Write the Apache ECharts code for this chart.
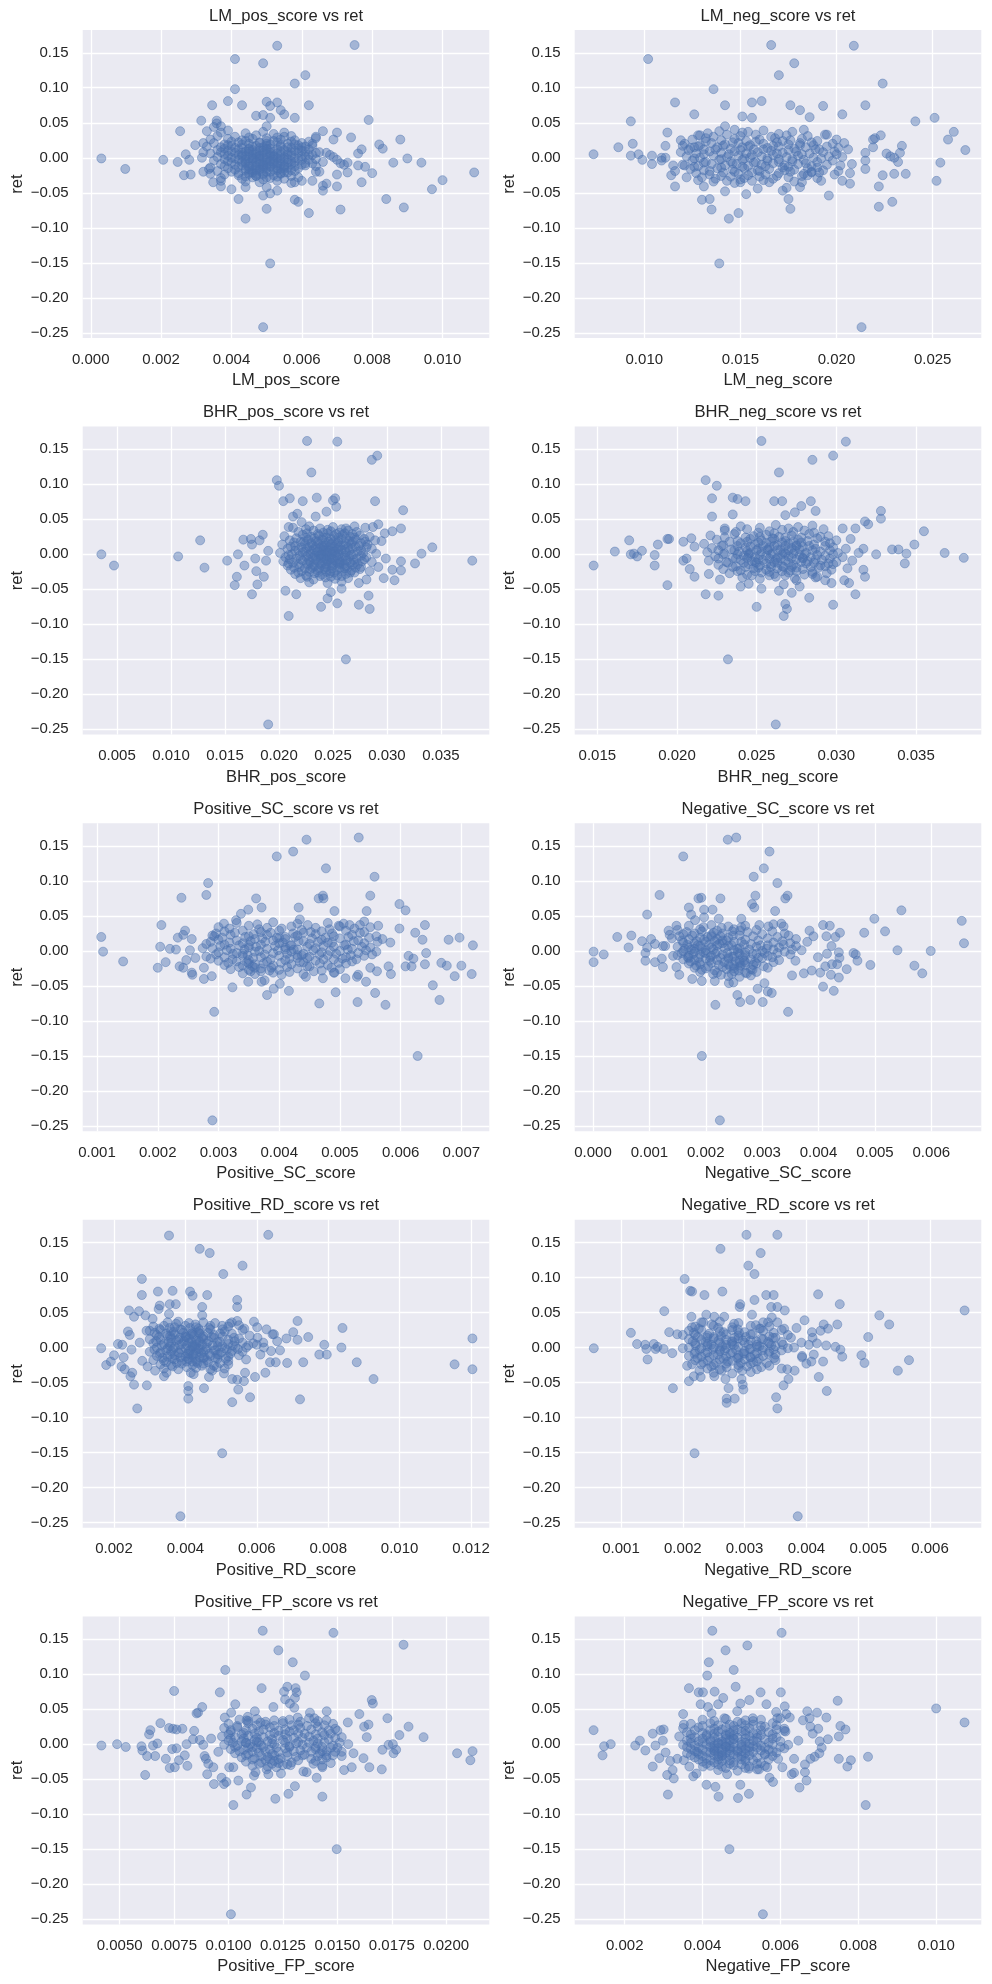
<!DOCTYPE html>
<html><head><meta charset="utf-8">
<script src="https://cdn.jsdelivr.net/npm/echarts@6/dist/echarts.min.js"></script>
<style>html,body{margin:0;padding:0;background:#fff}#c{width:992px;height:1984px}</style>
</head><body><div id="c"></div>
<script>
// ---------------- DATA ----------------
const titles = ["LM_pos_score vs ret","LM_neg_score vs ret","BHR_pos_score vs ret","BHR_neg_score vs ret","Positive_SC_score vs ret","Negative_SC_score vs ret","Positive_RD_score vs ret","Negative_RD_score vs ret","Positive_FP_score vs ret","Negative_FP_score vs ret"];
const xNames = ["LM_pos_score","LM_neg_score","BHR_pos_score","BHR_neg_score","Positive_SC_score","Negative_SC_score","Positive_RD_score","Negative_RD_score","Positive_FP_score","Negative_FP_score"];
const yName = "ret";
const yTicks = [-0.25,-0.2,-0.15,-0.1,-0.05,0,0.05,0.1,0.15];
const xTicks1 = [0,0.002,0.004,0.006,0.008,0.010];
const xTicks2 = [0.010,0.015,0.020,0.025];
const xTicks3 = [0.005,0.010,0.015,0.020,0.025,0.030,0.035];
const xTicks4 = [0.015,0.020,0.025,0.030,0.035];
const xTicks5 = [0.001,0.002,0.003,0.004,0.005,0.006,0.007];
const xTicks6 = [0,0.001,0.002,0.003,0.004,0.005,0.006];
const xTicks7 = [0.002,0.004,0.006,0.008,0.010,0.012];
const xTicks8 = [0.001,0.002,0.003,0.004,0.005,0.006];
const xTicks9 = [0.0050,0.0075,0.0100,0.0125,0.0150,0.0175,0.0200];
const xTicks10 = [0.002,0.004,0.006,0.008,0.010];

const lmPos = [[.0003,-.001],[.00098,-.016],[.00206,-.003],[.00247,-.006],[.00254,.038],[.0027,.005],[.0028,-.003],[.00265,-.025],[.00284,-.024],[.00297,.018],[.00314,.053],[.00316,0],[.0032,.008],[.0032,.021],[.0032,-.02],[.0033,.038],[.00336,-.016],[.00345,.075],[.00348,-.035],[.0034,-.023],[.0035,.044],[.00358,.053],[.00358,.049],[.0037,-.033],[.0037,-.041],[.0037,.045],[.0039,.081],[.0039,.039],[.004,-.045],[.0041,.098],[.0041,.141],[.0043,.075],[.0042,-.059],[.0044,-.087],[.0044,-.042],[.0047,.06],[.0049,.135],[.005,.08],[.005,.045],[.0049,.061],[.0049,-.054],[.005,-.073],[.0049,-.242],[.0051,-.151],[.0051,.057],[.0051,.074],[.0053,.16],[.0053,.079],[.0054,.068],[.0055,.062],[.0058,.106],[.0061,.118],[.0058,.057],[.0062,.075],[.0051,-.051],[.0053,-.047],[.005,-.042],[.0058,-.06],[.0059,-.063],[.0062,-.079],[.0058,-.035],[.006,-.033],[.0063,-.033],[.0066,-.04],[.0066,-.047],[.0067,-.037],[.007,-.041],[.007,-.024],[.0071,-.074],[.0073,-.021],[.0073,-.007],[.0074,.029],[.007,.036],[.0066,.038],[.0069,.026],[.0075,.161],[.0076,-.011],[.0076,.006],[.0077,.012],[.0077,-.035],[.0078,-.013],[.0079,.054],[.008,-.022],[.0082,.019],[.0083,.013],[.0084,-.059],[.0086,-.007],[.0088,.026],[.009,-.001],[.0089,-.071],[.0094,-.007],[.0097,-.045],[.01,-.032],[.0109,-.021],
[.0065,.008],[.0067,.007],[.0068,.004],[.0069,.001],[.007,-.003],[.0071,-.008],[.0072,-.01],[.0065,-.02],[.0064,-.012],[.0063,.02],[.0064,.028],
[.0037,.036],[.0044,.035],[.0049,.037],[.0052,.034],[.0055,.036],[.0036,.031],[.0041,.030],[.0047,.032],[.0053,.029],[.0057,.031],[.0064,.03],[.0034,.026],[.0039,.027],[.0043,.025],[.0046,.027],[.005,.024],[.0054,.026],[.0058,.025],[.0062,.023],[.0035,.021],[.0038,.019],[.0042,.022],[.0045,.02],[.0048,.021],[.0051,.019],[.0053,.022],[.0056,.02],[.0059,.018],[.0063,.017],[.0033,.016],[.0037,.015],[.004,.017],[.0043,.014],[.0046,.016],[.0049,.015],[.0051,.013],[.0054,.016],[.0057,.014],[.006,.015],[.0036,.011],[.0039,.01],[.0042,.012],[.0044,.009],[.0046,.011],[.0048,.01],[.005,.012],[.0052,.009],[.0055,.011],[.0058,.01],[.0061,.009],[.0034,.006],[.0038,.005],[.0041,.007],[.0043,.004],[.0045,.006],[.0047,.005],[.0049,.007],[.0051,.004],[.0053,.006],[.0056,.005],[.0059,.007],[.0062,.004],[.0036,.001],[.004,0],[.0043,.002],[.0045,-.001],[.0047,.001],[.0049,0],[.0051,.002],[.0053,-.001],[.0055,.001],[.0058,0],[.0061,.002],[.0064,-.002],[.0035,-.004],[.0039,-.005],[.0042,-.003],[.0044,-.006],[.0046,-.004],[.0048,-.005],[.005,-.003],[.0052,-.006],[.0054,-.004],[.0057,-.005],[.006,-.003],[.0066,-.006],[.0037,-.009],[.0041,-.01],[.0044,-.008],[.0046,-.011],[.0048,-.009],[.005,-.01],[.0052,-.008],[.0055,-.011],[.0057,-.009],[.006,-.01],[.0063,-.008],[.0034,-.014],[.0039,-.015],[.0042,-.013],[.0045,-.016],[.0047,-.014],[.0049,-.015],[.0051,-.013],[.0054,-.016],[.0056,-.014],[.0059,-.015],[.0036,-.019],[.004,-.02],[.0044,-.018],[.0046,-.021],[.0048,-.019],[.005,-.02],[.0053,-.018],[.0055,-.021],[.0058,-.019],[.0064,-.02],[.0038,-.024],[.0042,-.025],[.0045,-.023],[.0047,-.026],[.0049,-.024],[.0052,-.025],[.0054,-.023],[.0057,-.026],[.0037,-.029],[.0043,-.03],[.0046,-.028],[.0049,-.031],[.0051,-.029],[.0055,-.03],[.0059,-.028],[.0044,-.034],[.0048,-.035],[.0053,-.033],[.0057,-.036],
[.0046,-.001],[.0048,.003],[.005,-.007],[.0052,.003],[.0054,-.009],[.0047,-.017],[.005,.017],[.0053,-.015],[.0056,.008],[.0045,.013],[.0049,-.012],[.0055,-.002]];
const lmPos2 = [[.0045,.029],[.0050,.028],[.0055,.030],[.0040,.023],[.0044,.024],[.0048,.022],[.0052,.024],[.0057,.023],[.0060,.021],[.0039,.018],[.0043,.019],[.0047,.017],[.0050,.020],[.0054,.018],[.0058,.019],[.0061,.016],[.0038,.013],[.0041,.014],[.0045,.012],[.0048,.014],[.0050,.013],[.0053,.012],[.0056,.015],[.0059,.013],[.0062,.012],[.0037,.008],[.0040,.009],[.0043,.007],[.0045,.009],[.0047,.008],[.0049,.010],[.0051,.007],[.0054,.009],[.0057,.008],[.0060,.010],[.0064,.007],[.0039,.003],[.0042,.004],[.0044,.002],[.0046,.004],[.0048,.002],[.0050,.005],[.0052,.001],[.0054,.004],[.0057,.003],[.0060,.002],[.0063,.004],[.0038,-.002],[.0041,-.001],[.0044,-.003],[.0046,-.001],[.0048,-.002],[.0050,0],[.0052,-.003],[.0054,-.001],[.0056,-.002],[.0059,-.001],[.0062,-.003],[.0040,-.007],[.0043,-.006],[.0045,-.008],[.0047,-.006],[.0049,-.007],[.0051,-.005],[.0053,-.008],[.0056,-.007],[.0058,-.006],[.0061,-.008],[.0038,-.012],[.0043,-.011],[.0045,-.013],[.0047,-.012],[.0049,-.010],[.0051,-.012],[.0053,-.011],[.0055,-.013],[.0058,-.012],[.0061,-.011],[.0041,-.017],[.0044,-.016],[.0046,-.018],[.0048,-.017],[.0050,-.015],[.0052,-.017],[.0055,-.016],[.0057,-.018],[.0042,-.022],[.0045,-.021],[.0047,-.023],[.0049,-.022],[.0051,-.020],[.0054,-.022],[.0056,-.021],[.0044,-.027],[.0047,-.026],[.0050,-.028],[.0053,-.027]];

const lmNeg = [[.00736,.005],[.00865,.015],[.0093,.052],[.0093,.003],[.0094,.02],[.0097,.005],[.0099,-.003],[.0102,.141],[.0104,.003],[.0104,-.009],[.0109,0],[.0109,-.004],[.0111,0],[.0112,.036],[.0111,.017],[.0114,-.025],[.0116,.079],[.0116,-.041],[.0115,-.011],[.0116,-.019],[.0119,.025],[.012,.017],[.0121,-.011],[.0122,-.028],[.0126,.062],[.0126,.015],[.0128,-.032],[.0129,.032],[.013,-.06],[.0131,-.041],[.0134,-.059],[.0135,-.074],[.0136,.098],[.0139,-.151],[.0142,.075],[.0142,-.048],[.0142,.045],[.0144,-.087],[.0143,-.033],[.0149,-.079],[.015,-.035],[.0151,.059],[.0153,-.052],[.0156,.079],[.0156,.057],[.0161,.081],[.0159,-.044],[.0166,.161],[.017,.118],[.0178,.135],[.0176,.075],[.0181,.068],[.0186,.058],[.0172,-.047],[.0174,-.043],[.0175,-.059],[.0176,-.073],[.0181,-.042],[.0182,-.035],[.0187,-.021],[.0192,-.033],[.0196,-.054],[.0193,.074],[.0194,.033],[.0203,.062],[.0201,-.019],[.0203,-.033],[.0207,-.037],[.0207,-.022],[.0208,-.009],[.0206,.012],[.0209,.16],[.0213,-.242],[.0215,-.016],[.0215,-.004],[.0215,.007],[.0215,.075],[.0219,.015],[.0219,.026],[.022,.028],[.0222,-.041],[.0222,-.07],[.0223,.032],[.0224,.106],[.0224,-.025],[.0226,.006],[.0228,.002],[.0229,-.063],[.023,-.023],[.023,0],[.0232,-.006],[.0233,.007],[.0234,.017],[.0236,-.023],[.0241,.052],[.0251,.057],[.0252,-.033],[.0254,-.007],[.0258,.026],[.0261,.037],[.0267,.011],
[.0139,.038],[.0147,.040],[.0154,.037],[.0162,.039],[.0177,.037],[.0183,.040],[.0128,.032],[.0136,.030],[.0143,.033],[.0150,.031],[.0158,.033],[.0166,.030],[.0174,.032],[.0185,.031],[.0195,.033],[.0125,.026],[.0132,.028],[.0140,.025],[.0147,.027],[.0153,.024],[.0160,.026],[.0168,.028],[.0176,.025],[.0182,.027],[.0190,.024],[.0200,.026],[.0121,.020],[.0129,.018],[.0135,.021],[.0142,.019],[.0149,.021],[.0155,.018],[.0162,.020],[.0169,.022],[.0175,.019],[.0181,.021],[.0188,.018],[.0198,.020],[.0204,.021],[.0124,.014],[.0131,.012],[.0138,.015],[.0145,.013],[.0151,.015],[.0157,.012],[.0164,.014],[.0170,.016],[.0178,.013],[.0184,.015],[.0191,.012],[.0201,.014],[.0119,.008],[.0127,.006],[.0134,.009],[.0140,.007],[.0147,.009],[.0153,.006],[.0159,.008],[.0166,.010],[.0172,.007],[.0179,.009],[.0186,.006],[.0193,.008],[.0199,.009],[.0122,.002],[.0129,0],[.0136,.003],[.0143,.001],[.0149,.003],[.0155,0],[.0161,.002],[.0167,.004],[.0174,.001],[.0180,.003],[.0188,0],[.0196,.002],[.0203,.001],[.0125,-.004],[.0132,-.006],[.0139,-.003],[.0145,-.005],[.0151,-.003],[.0158,-.006],[.0164,-.004],[.0170,-.002],[.0177,-.005],[.0183,-.003],[.0190,-.006],[.0198,-.004],[.0120,-.010],[.0128,-.012],[.0135,-.009],[.0142,-.011],[.0148,-.009],[.0154,-.012],[.0161,-.010],[.0167,-.008],[.0173,-.011],[.0180,-.009],[.0187,-.012],[.0195,-.010],[.0202,-.011],[.0124,-.016],[.0131,-.018],[.0138,-.015],[.0146,-.017],[.0152,-.015],[.0159,-.018],[.0165,-.016],[.0172,-.014],[.0178,-.017],[.0185,-.015],[.0193,-.018],[.0127,-.022],[.0134,-.024],[.0141,-.021],[.0149,-.023],[.0156,-.021],[.0163,-.024],[.0170,-.022],[.0176,-.020],[.0183,-.023],[.0191,-.021],[.0199,-.024],[.0130,-.028],[.0137,-.030],[.0145,-.027],[.0152,-.029],[.0160,-.027],[.0167,-.030],[.0175,-.028],[.0182,-.026],[.0190,-.029],[.0136,-.034],[.0147,-.036],[.0156,-.033],[.0165,-.035],[.0178,-.034]];
const lmNeg2 = [[.0133,.035],[.0151,.036],[.0170,.034],[.0132,.023],[.0146,.022],[.0158,.023],[.0172,.024],[.0187,.022],[.0128,.016],[.0141,.017],[.0154,.016],[.0167,.017],[.0181,.018],[.0195,.016],[.0123,.011],[.0137,.012],[.0150,.011],[.0162,.012],[.0175,.011],[.0189,.012],[.0131,.005],[.0144,.005],[.0156,.004],[.0169,.006],[.0182,.005],[.0200,.005],[.0126,-.001],[.0140,-.002],[.0152,-.001],[.0164,-.001],[.0177,-.002],[.0192,-.001],[.0131,-.007],[.0146,-.008],[.0157,-.007],[.0170,-.006],[.0184,-.008],[.0126,-.013],[.0140,-.014],[.0151,-.013],[.0163,-.012],[.0175,-.013],[.0190,-.014],[.0134,-.019],[.0147,-.020],[.0160,-.019],[.0173,-.018],[.0187,-.020],[.0140,-.026],[.0154,-.025],[.0169,-.026],[.0185,-.025],[.0150,-.031],[.0162,-.032]];

const bhrPos = [[.00355,0],[.00472,-.016],[.01066,-.003],[.0127,.02],[.0131,-.019],[.0152,-.009],[.0159,-.044],[.0161,-.032],[.0162,0],[.0167,.021],[.0168,-.016],[.0174,.022],[.0175,.014],[.0175,-.057],[.0178,-.006],[.0179,-.024],[.018,-.043],[.0182,.02],[.0185,.028],[.0186,-.032],[.0188,-.009],[.019,.005],[.019,-.243],[.0198,.106],[.02,.098],[.0204,.076],[.0206,-.052],[.0209,-.088],[.021,.08],[.0209,.039],[.0213,.054],[.0216,-.057],[.0217,.058],[.0222,.076],[.0221,.046],[.0226,.162],[.023,.117],[.0235,.081],[.0234,.054],[.0239,-.075],[.0244,.061],[.0245,-.063],[.0248,-.054],[.025,.077],[.0252,.08],[.0253,.068],[.0254,.161],[.0254,-.07],[.0258,-.049],[.0262,-.15],[.0274,-.041],[.0274,-.072],[.0281,-.036],[.0283,-.059],[.0284,-.078],[.0286,.135],[.0291,.141],[.0289,.076],[.0287,.039],[.0292,.043],[.0295,.019],[.0292,-.018],[.0297,-.034],[.0298,.03],[.0299,-.006],[.0305,.033],[.0307,-.037],[.0305,-.022],[.0313,.037],[.0313,-.01],[.0313,-.023],[.0315,.063],[.0326,-.013],[.0332,.001],[.0342,.01],[.0379,-.009],
[.0213,.038],[.0228,.040],[.0238,.037],[.0250,.039],[.0262,.037],[.0270,.040],[.0280,.038],[.0218,.032],[.0232,.034],[.0241,.031],[.0248,.033],[.0256,.031],[.0264,.034],[.0272,.032],[.0205,.026],[.0222,.028],[.0230,.025],[.0237,.027],[.0244,.024],[.0251,.026],[.0259,.028],[.0266,.025],[.0275,.027],[.0284,.025],[.0210,.020],[.0220,.018],[.0227,.021],[.0234,.019],[.0240,.021],[.0246,.018],[.0252,.020],[.0258,.022],[.0265,.019],[.0271,.021],[.0280,.018],[.0289,.020],[.0203,.014],[.0215,.012],[.0224,.015],[.0231,.013],[.0237,.015],[.0242,.012],[.0248,.014],[.0254,.016],[.0260,.013],[.0267,.015],[.0274,.012],[.0282,.014],[.0208,.008],[.0218,.006],[.0226,.009],[.0232,.007],[.0238,.009],[.0243,.006],[.0249,.008],[.0255,.010],[.0261,.007],[.0268,.009],[.0276,.006],[.0286,.008],[.0201,.002],[.0212,0],[.0222,.003],[.0229,.001],[.0235,.003],[.0240,0],[.0245,.002],[.0250,.004],[.0256,.001],[.0262,.003],[.0269,0],[.0278,.002],[.0290,.001],[.0206,-.004],[.0216,-.006],[.0225,-.003],[.0231,-.005],[.0237,-.003],[.0242,-.006],[.0247,-.004],[.0253,-.002],[.0259,-.005],[.0265,-.003],[.0272,-.006],[.0281,-.004],[.0204,-.010],[.0213,-.012],[.0222,-.009],[.0229,-.011],[.0235,-.009],[.0240,-.012],[.0245,-.010],[.0251,-.008],[.0257,-.011],[.0263,-.009],[.0270,-.012],[.0277,-.010],[.0286,-.011],[.0208,-.016],[.0219,-.018],[.0227,-.015],[.0233,-.017],[.0239,-.015],[.0244,-.018],[.0250,-.016],[.0256,-.014],[.0262,-.017],[.0268,-.015],[.0276,-.018],[.0211,-.022],[.0221,-.024],[.0229,-.021],[.0236,-.023],[.0242,-.021],[.0248,-.024],[.0254,-.022],[.0261,-.020],[.0267,-.023],[.0275,-.021],[.0284,-.024],[.0215,-.028],[.0225,-.030],[.0233,-.027],[.0240,-.029],[.0247,-.027],[.0254,-.030],[.0262,-.028],[.0270,-.026],[.0220,-.034],[.0232,-.036],[.0243,-.033],[.0252,-.035],[.0264,-.034],[.0228,-.040],[.0245,-.041],[.0258,-.039],
[.0238,-.001],[.0243,.004],[.0247,-.007],[.0252,.001],[.0256,-.012],[.0241,.010],[.0249,-.013],[.0255,.007]];
const bhrPos2 = [[.0225,.036],[.0245,.035],[.0258,.036],[.0226,.030],[.0236,.029],[.0245,.030],[.0253,.029],[.0261,.030],[.0268,.029],[.0216,.023],[.0225,.024],[.0233,.023],[.0241,.024],[.0248,.022],[.0255,.024],[.0262,.023],[.0270,.024],[.0279,.022],[.0214,.017],[.0223,.018],[.0230,.016],[.0236,.018],[.0243,.017],[.0249,.016],[.0255,.018],[.0262,.016],[.0268,.018],[.0276,.016],[.0211,.011],[.0221,.010],[.0228,.011],[.0234,.010],[.0240,.012],[.0246,.010],[.0251,.011],[.0257,.012],[.0264,.010],[.0271,.011],[.0281,.010],[.0215,.005],[.0224,.004],[.0230,.005],[.0236,.004],[.0241,.006],[.0247,.005],[.0252,.004],[.0258,.006],[.0265,.005],[.0273,.004],[.0209,-.001],[.0219,-.002],[.0227,-.001],[.0233,-.002],[.0239,-.001],[.0244,-.002],[.0249,0],[.0255,-.001],[.0261,-.002],[.0267,-.001],[.0276,-.002],[.0210,-.007],[.0220,-.007],[.0228,-.008],[.0234,-.007],[.0239,-.006],[.0244,-.007],[.0249,-.006],[.0256,-.008],[.0262,-.007],[.0269,-.008],[.0279,-.007],[.0209,-.013],[.0218,-.014],[.0226,-.013],[.0232,-.014],[.0238,-.013],[.0243,-.014],[.0248,-.012],[.0254,-.013],[.0260,-.014],[.0266,-.012],[.0273,-.014],[.0214,-.019],[.0224,-.020],[.0231,-.019],[.0237,-.020],[.0243,-.019],[.0249,-.020],[.0256,-.019],[.0263,-.020],[.0271,-.019],[.0218,-.026],[.0228,-.025],[.0236,-.026],[.0244,-.025],[.0251,-.026],[.0258,-.025],[.0266,-.026],[.0226,-.032],[.0238,-.031],[.0248,-.032],[.0258,-.031]];

const bhrNeg = [[.01477,-.016],[.0161,.004],[.017,.02],[.0171,0],[.0173,.001],[.0175,-.003],[.0178,.005],[.0186,-.001],[.0186,-.016],[.0188,.014],[.0194,.022],[.0195,.022],[.0194,-.044],[.0204,.018],[.0204,-.009],[.0206,-.006],[.0208,-.021],[.0209,.023],[.0211,-.032],[.0211,.011],[.0218,.106],[.0218,-.057],[.022,-.028],[.0222,.08],[.0222,.054],[.0225,.098],[.0226,-.059],[.0227,-.036],[.023,.037],[.0232,-.15],[.0235,.081],[.0238,.079],[.0235,.057],[.0243,.076],[.024,-.046],[.0245,-.042],[.025,-.075],[.0253,.162],[.0253,-.049],[.0261,.076],[.0262,-.243],[.0264,-.052],[.0264,.117],[.0266,.076],[.0267,-.043],[.0268,-.071],[.0269,-.078],[.0267,-.088],[.0272,-.055],[.0268,.056],[.0274,.06],[.0278,.069],[.0275,-.037],[.0277,-.046],[.0283,-.062],[.0284,.076],[.0285,.135],[.0287,.062],[.0285,-.028],[.0288,-.032],[.0293,-.037],[.0297,-.041],[.0298,.141],[.0298,-.072],[.0306,.161],[.0304,.037],[.0305,-.037],[.0308,-.041],[.0309,.022],[.0312,.037],[.0312,-.057],[.0314,.002],[.0317,.008],[.0317,-.022],[.0318,-.032],[.0318,.047],[.032,.043],[.0325,0],[.0328,.062],[.0328,.051],[.0335,.007],[.0339,.007],[.0343,-.013],[.0344,.001],[.0349,.014],[.0355,.033],[.0368,.002],[.038,-.005],
[.0240,.040],[.0262,.042],[.0276,.039],[.0285,.041],[.0230,.034],[.0244,.036],[.0258,.033],[.0266,.035],[.0280,.034],[.0292,.036],[.0221,.027],[.0236,.029],[.0248,.026],[.0256,.028],[.0264,.025],[.0272,.027],[.0283,.029],[.0295,.026],[.0225,.021],[.0238,.019],[.0246,.022],[.0253,.020],[.0261,.022],[.0268,.019],[.0276,.021],[.0288,.023],[.0300,.020],[.0217,.015],[.0229,.013],[.0240,.016],[.0249,.014],[.0256,.016],[.0263,.013],[.0270,.015],[.0278,.017],[.0286,.014],[.0296,.016],[.0222,.009],[.0234,.007],[.0243,.010],[.0251,.008],[.0258,.010],[.0265,.007],[.0272,.009],[.0279,.011],[.0287,.008],[.0298,.010],[.0306,.008],[.0219,.003],[.0230,.001],[.0239,.004],[.0246,.002],[.0253,.004],[.0260,.001],[.0267,.003],[.0274,.005],[.0281,.002],[.0290,.004],[.0301,.002],[.0224,-.003],[.0235,-.005],[.0242,-.002],[.0249,-.004],[.0256,-.002],[.0263,-.005],[.0270,-.003],[.0277,-.001],[.0284,-.004],[.0293,-.002],[.0304,-.004],[.0220,-.009],[.0231,-.011],[.0240,-.008],[.0247,-.010],[.0254,-.008],[.0261,-.011],[.0268,-.009],[.0275,-.007],[.0282,-.010],[.0291,-.008],[.0300,-.011],[.0310,-.009],[.0226,-.015],[.0237,-.017],[.0245,-.014],[.0252,-.016],[.0259,-.014],[.0266,-.017],[.0273,-.015],[.0281,-.013],[.0290,-.016],[.0298,-.014],[.0229,-.021],[.0240,-.023],[.0248,-.020],[.0256,-.022],[.0263,-.020],[.0271,-.023],[.0279,-.021],[.0289,-.019],[.0297,-.022],[.0307,-.020],[.0233,-.027],[.0244,-.029],[.0253,-.026],[.0261,-.028],[.0270,-.026],[.0280,-.029],[.0294,-.027],[.0241,-.033],[.0252,-.035],[.0262,-.032],[.0274,-.034],[.0287,-.033],
[.0245,-.001],[.0250,-.012],[.0257,.006],[.0262,-.007],[.0268,.001],[.0272,-.018],[.0275,.012],[.0279,-.005]];
const bhrNeg2 = [[.0252,.038],[.0270,.037],[.0237,.032],[.0251,.031],[.0261,.030],[.0273,.032],[.0286,.031],[.0230,.024],[.0243,.024],[.0252,.025],[.0260,.023],[.0268,.024],[.0278,.024],[.0290,.025],[.0233,.018],[.0244,.018],[.0251,.017],[.0259,.018],[.0266,.017],[.0273,.018],[.0282,.019],[.0293,.018],[.0228,.012],[.0238,.012],[.0246,.011],[.0254,.012],[.0261,.012],[.0268,.012],[.0275,.013],[.0283,.012],[.0293,.012],[.0226,.006],[.0236,.006],[.0244,.005],[.0250,.006],[.0257,.007],[.0263,.006],[.0270,.006],[.0277,.007],[.0285,.006],[.0296,.006],[.0229,0],[.0238,0],[.0245,.001],[.0252,-.001],[.0259,0],[.0266,0],[.0273,.001],[.0280,0],[.0288,-.001],[.0298,0],[.0226,-.006],[.0237,-.006],[.0244,-.005],[.0251,-.007],[.0258,-.006],[.0265,-.006],[.0272,-.005],[.0279,-.006],[.0287,-.007],[.0296,-.006],[.0232,-.012],[.0242,-.012],[.0249,-.011],[.0256,-.013],[.0263,-.012],[.0270,-.012],[.0278,-.011],[.0286,-.012],[.0295,-.013],[.0235,-.018],[.0243,-.018],[.0251,-.019],[.0259,-.018],[.0267,-.018],[.0275,-.019],[.0284,-.018],[.0293,-.017],[.0238,-.024],[.0249,-.024],[.0258,-.025],[.0266,-.024],[.0275,-.024],[.0285,-.025],[.0247,-.030],[.0258,-.030],[.0268,-.030]];

const posSC = [[.00107,.02],[.0011,-.001],[.00143,-.015],[.002,-.024],[.00204,.006],[.00206,.037],[.00213,-.016],[.0022,.003],[.0023,.002],[.00233,.019],[.00239,.076],[.00236,-.022],[.00242,-.024],[.00242,.023],[.00245,.029],[.00247,-.013],[.00253,.001],[.00256,-.031],[.00257,-.034],[.00256,.017],[.00262,-.01],[.00274,.004],[.00276,-.024],[.00276,-.04],[.0028,.08],[.00283,.097],[.00289,-.036],[.0029,-.242],[.00293,-.087],[.00293,.021],[.00309,.039],[.00323,-.052],[.00329,.044],[.00337,.053],[.00349,.059],[.00349,-.044],[.00362,.075],[.00371,.062],[.00371,-.044],[.0038,-.063],[.00376,-.042],[.00391,-.054],[.00396,.135],[.00404,-.034],[.00401,-.047],[.00416,-.057],[.00423,.142],[.00432,.062],[.00434,.045],[.00445,.159],[.00444,-.037],[.00466,-.075],[.00465,.075],[.00472,.079],[.00477,.118],[.00473,.075],[.00472,-.039],[.00491,.057],[.00493,-.059],[.00491,-.031],[.00498,.036],[.00509,-.039],[.00516,.037],[.00529,-.073],[.00531,.162],[.00528,-.037],[.00533,.037],[.00543,-.044],[.00544,.057],[.0055,.079],[.00557,.106],[.00558,-.06],[.00561,-.029],[.00563,.036],[.00575,-.077],[.0058,-.022],[.00583,.012],[.00584,-.033],[.00598,.067],[.00598,.032],[.00608,.058],[.00608,-.022],[.00613,-.007],[.00618,-.022],[.00621,-.011],[.00624,.026],[.00628,-.15],[.00636,.016],[.0064,.037],[.0064,-.019],[.00642,-.003],[.00653,-.049],[.00664,-.07],[.00667,-.017],[.00676,-.021],[.00679,.016],[.00689,-.036],[.00697,.019],[.007,-.021],[.00717,-.033],[.00719,.008],
[.0033,.040],[.0039,.041],[.0043,.039],[.0048,.040],[.0054,.042],[.0030,.034],[.0035,.036],[.0038,.033],[.0042,.035],[.0046,.033],[.0050,.035],[.0055,.034],[.0031,.028],[.0034,.029],[.0037,.027],[.0040,.029],[.0044,.026],[.0047,.028],[.0051,.029],[.0054,.027],[.0029,.022],[.0032,.023],[.0035,.021],[.0038,.023],[.0041,.020],[.0043,.022],[.0046,.024],[.0049,.021],[.0052,.023],[.0056,.021],[.0030,.016],[.0033,.015],[.0036,.017],[.0039,.015],[.0041,.017],[.0044,.014],[.0047,.016],[.0050,.018],[.0053,.015],[.0057,.017],[.0028,.010],[.0031,.009],[.0034,.011],[.0037,.009],[.0040,.011],[.0042,.008],[.0045,.010],[.0048,.012],[.0051,.009],[.0054,.011],[.0029,.004],[.0032,.003],[.0035,.005],[.0038,.003],[.0041,.005],[.0043,.002],[.0046,.004],[.0049,.006],[.0052,.003],[.0055,.005],[.0030,-.002],[.0033,-.003],[.0036,-.001],[.0039,-.003],[.0042,-.001],[.0044,-.004],[.0047,-.002],[.0050,0],[.0053,-.003],[.0056,-.001],[.0028,-.008],[.0031,-.009],[.0034,-.007],[.0037,-.009],[.0040,-.007],[.0043,-.010],[.0045,-.008],[.0048,-.006],[.0051,-.009],[.0054,-.007],[.0030,-.014],[.0033,-.015],[.0035,-.013],[.0038,-.015],[.0041,-.013],[.0044,-.016],[.0046,-.014],[.0049,-.012],[.0052,-.015],[.0031,-.020],[.0034,-.021],[.0036,-.019],[.0039,-.021],[.0042,-.019],[.0045,-.022],[.0048,-.020],[.0051,-.018],[.0032,-.026],[.0035,-.027],[.0037,-.025],[.0040,-.027],[.0043,-.025],[.0047,-.028],[.0050,-.026],[.0055,-.024],[.0034,-.032],[.0036,-.033],[.0039,-.031],[.0044,-.033],[.0049,-.031],[.0053,-.034],
[.0035,-.018],[.0036,-.024],[.0037,-.029],[.0034,-.004],[.0035,.008],[.0041,.002],[.0043,-.006],[.0040,.019]];
const posSC2 = [[.00364,.038],[.00447,.037],[.00506,.039],[.00318,.032],[.00367,.031],[.00404,.032],[.00437,.030],[.00483,.031],[.00524,.032],[.00296,.025],[.00327,.026],[.00358,.024],[.00386,.026],[.00423,.025],[.00452,.027],[.00487,.025],[.00533,.026],[.00306,.019],[.00344,.020],[.00372,.018],[.00396,.019],[.00426,.020],[.00454,.018],[.00476,.019],[.00514,.020],[.00548,.019],[.00287,.013],[.00318,.012],[.00353,.014],[.00377,.013],[.00406,.012],[.00432,.014],[.00464,.013],[.00487,.012],[.00523,.014],[.00562,.013],[.00303,.007],[.00334,.008],[.00362,.006],[.00393,.007],[.00418,.008],[.00446,.006],[.00473,.007],[.00507,.008],[.00536,.006],[.00314,.001],[.00343,.002],[.00367,0],[.00398,.001],[.00424,.002],[.00456,.001],[.00484,0],[.00513,.002],[.00543,.001],[.00296,-.005],[.00324,-.004],[.00348,-.006],[.00376,-.005],[.00413,-.004],[.00437,-.006],[.00466,-.005],[.00494,-.004],[.00518,-.006],[.00553,-.005],[.00287,-.011],[.00323,-.012],[.00357,-.010],[.00386,-.012],[.00417,-.011],[.00446,-.010],[.00473,-.012],[.00504,-.011],[.00527,-.012],[.00316,-.017],[.00347,-.016],[.00374,-.018],[.00403,-.017],[.00434,-.016],[.00467,-.018],[.00498,-.017],[.00334,-.023],[.00356,-.022],[.00387,-.024],[.00413,-.023],[.00446,-.022],[.00486,-.024],[.00353,-.029],[.00384,-.028],[.00417,-.030],[.00457,-.029]];

const negSC = [[.00001,-.001],[.00001,-.016],[.00019,-.005],[.00043,.02],[.00063,.005],[.00068,.022],[.00087,.014],[.00093,-.003],[.00093,-.014],[.00096,.052],[.00096,.005],[.00103,.017],[.0011,-.016],[.0011,.01],[.00118,.08],[.00122,-.011],[.00124,-.023],[.00124,.007],[.00128,.007],[.00134,.029],[.00136,.023],[.00142,-.007],[.00148,.036],[.00148,-.023],[.00153,-.034],[.0016,.135],[.0017,.062],[.00174,.052],[.00176,-.04],[.00181,.044],[.00187,.075],[.00192,.076],[.00193,-.043],[.00193,-.15],[.00197,.048],[.00197,.059],[.00212,.059],[.00217,-.077],[.00216,-.043],[.00223,.046],[.00225,-.242],[.00226,.075],[.00227,-.034],[.00239,.159],[.00241,-.046],[.00249,-.045],[.00254,.162],[.00256,-.063],[.00261,-.073],[.00263,.046],[.00261,.029],[.00279,-.07],[.00282,.067],[.00285,.106],[.00286,.062],[.00288,.079],[.00292,-.054],[.00295,.037],[.00301,-.073],[.00303,.118],[.00304,-.046],[.0031,-.058],[.00313,.142],[.00311,.035],[.00317,-.06],[.00323,.057],[.00327,.097],[.00334,.039],[.00338,.035],[.00341,.075],[.00345,.079],[.00346,-.087],[.00347,.022],[.00353,-.035],[.00359,-.014],[.00374,-.032],[.00384,.029],[.00388,-.028],[.00391,.021],[.00399,-.009],[.00403,-.031],[.00408,-.051],[.00408,.037],[.00412,-.022],[.00414,.021],[.00415,-.004],[.0042,.036],[.00422,-.034],[.00423,.007],[.00424,-.019],[.00427,-.057],[.0043,.02],[.00433,-.019],[.00436,-.002],[.00436,-.038],[.00437,-.01],[.00438,.026],[.0045,-.026],[.00462,-.003],[.00466,-.005],[.00469,-.014],[.00481,.026],[.00492,-.02],[.00499,.046],[.00518,.028],[.0054,.001],[.00547,.058],[.0057,-.021],[.00584,-.032],[.00599,0],[.00654,.043],[.00658,.011],
[.0017,.036],[.0021,.037],[.0024,.035],[.0027,.036],[.0032,.038],[.0015,.030],[.0019,.031],[.0022,.029],[.0025,.031],[.0029,.030],[.0016,.024],[.0018,.025],[.0021,.023],[.0023,.025],[.0026,.022],[.0030,.024],[.0034,.025],[.0014,.018],[.0017,.017],[.0019,.019],[.0022,.017],[.0024,.019],[.0027,.016],[.0031,.018],[.0036,.017],[.0016,.012],[.0018,.011],[.0020,.013],[.0023,.011],[.0025,.013],[.0028,.010],[.0032,.012],[.0035,.011],[.0038,.013],[.0015,.006],[.0017,.005],[.0019,.007],[.0021,.005],[.0024,.007],[.0026,.004],[.0029,.006],[.0031,.008],[.0033,.005],[.0036,.007],[.0016,0],[.0018,-.001],[.0020,.001],[.0022,-.001],[.0025,.001],[.0027,-.002],[.0030,0],[.0032,.002],[.0034,-.001],[.0037,.001],[.0015,-.006],[.0017,-.007],[.0019,-.005],[.0021,-.007],[.0023,-.005],[.0025,-.008],[.0027,-.006],[.0029,-.004],[.0031,-.007],[.0035,-.005],[.0016,-.012],[.0018,-.013],[.0020,-.011],[.0022,-.013],[.0024,-.011],[.0026,-.014],[.0028,-.012],[.0030,-.010],[.0033,-.013],[.0017,-.018],[.0019,-.019],[.0021,-.017],[.0024,-.019],[.0026,-.017],[.0027,-.020],[.0029,-.018],[.0032,-.016],[.0018,-.024],[.0020,-.025],[.0023,-.023],[.0025,-.025],[.0026,-.023],[.0028,-.026],[.0031,-.024],[.0019,-.030],[.0022,-.031],[.0025,-.029],[.0027,-.031],[.0029,-.030],[.0024,-.036],[.0026,-.037],[.0028,-.035],
[.0018,.003],[.0020,-.003],[.0022,.008],[.0024,-.009],[.0026,-.004],[.0017,-.010],[.0023,.015],[.0027,-.016],[.0021,.021],[.0025,-.021]];
const negSC2 = [[.00196,.034],[.00228,.033],[.00263,.034],[.00166,.027],[.00193,.028],[.00214,.026],[.00247,.028],[.00274,.027],[.00318,.028],[.00153,.021],[.00176,.022],[.00203,.020],[.00226,.021],[.00248,.022],[.00284,.021],[.00327,.020],[.00158,.015],[.00184,.014],[.00197,.016],[.00216,.014],[.00237,.015],[.00263,.013],[.00293,.015],[.00336,.014],[.00167,.009],[.00186,.008],[.00206,.009],[.00224,.010],[.00246,.008],[.00268,.009],[.00297,.008],[.00338,.009],[.00163,.003],[.00174,.002],[.00193,.003],[.00213,.002],[.00234,.004],[.00256,.003],[.00277,.002],[.00308,.003],[.00353,.002],[.00157,-.003],[.00178,-.004],[.00196,-.002],[.00217,-.004],[.00238,-.003],[.00257,-.002],[.00283,-.004],[.00304,-.003],[.00327,-.003],[.00168,-.009],[.00187,-.010],[.00208,-.009],[.00226,-.010],[.00247,-.008],[.00266,-.009],[.00293,-.010],[.00318,-.009],[.00173,-.015],[.00189,-.016],[.00207,-.014],[.00233,-.016],[.00253,-.015],[.00268,-.014],[.00287,-.016],[.00183,-.021],[.00204,-.022],[.00223,-.020],[.00243,-.022],[.00262,-.021],[.00284,-.020],[.00303,-.022],[.00193,-.027],[.00216,-.028],[.00237,-.026],[.00258,-.028],[.00283,-.027],[.00213,-.033],[.00246,-.033],[.00273,-.032]];

const posRD = [[.00164,-.001],[.00178,-.025],[.00191,-.02],[.002,-.011],[.00211,.005],[.00223,.004],[.00227,-.014],[.00221,-.027],[.0023,-.031],[.00239,.023],[.00242,.053],[.00244,.018],[.00246,-.041],[.00251,-.036],[.00256,.044],[.00256,-.053],[.00249,-.003],[.00265,-.087],[.0027,.052],[.00272,.007],[.00278,.098],[.00278,.075],[.00279,-.019],[.00288,.046],[.00292,-.054],[.00294,-.027],[.00291,.024],[.00308,.041],[.00315,-.033],[.00323,.08],[.00325,.055],[.00328,.06],[.0034,-.041],[.00347,-.036],[.00354,.16],[.00356,.062],[.00354,.048],[.00364,.081],[.00373,.062],[.00386,-.241],[.00408,-.055],[.00408,-.062],[.00408,-.073],[.00413,.08],[.0042,.074],[.00415,-.036],[.00423,-.038],[.0044,.141],[.00447,.058],[.00447,.046],[.00452,-.058],[.00461,.075],[.00468,.135],[.00466,-.042],[.00475,-.033],[.00503,.031],[.00506,.105],[.00503,-.151],[.00508,-.037],[.00524,.034],[.00531,-.078],[.00531,-.045],[.00545,.068],[.00545,.058],[.00545,.038],[.00548,-.06],[.00545,-.046],[.0056,.117],[.00564,-.048],[.00567,-.036],[.00565,.027],[.00581,-.071],[.00592,.037],[.00595,-.042],[.00601,.029],[.00602,.014],[.00618,.007],[.00624,-.036],[.00627,.026],[.00632,.161],[.00637,-.021],[.00644,.019],[.00648,.019],[.00653,-.021],[.00657,.009],[.00665,-.004],[.00683,.013],[.00685,-.022],[.00702,.022],[.00714,.011],[.00714,.038],[.00721,-.074],[.0073,-.021],[.00744,.015],[.00775,-.01],[.00789,.004],[.00796,-.01],[.00837,0],[.0084,.028],[.0088,-.021],[.00927,-.045],[.01154,-.024],[.01204,.013],[.01204,-.031],
[.0060,.004],[.0062,0],[.0064,-.005],[.0061,-.010],
[.0035,.036],[.0038,.037],[.0041,.035],[.0045,.036],[.0053,.036],[.0031,.030],[.0034,.031],[.0037,.029],[.0040,.031],[.0043,.029],[.0047,.031],[.0052,.030],[.0055,.032],[.0030,.024],[.0033,.025],[.0036,.023],[.0039,.025],[.0042,.022],[.0044,.024],[.0047,.026],[.0051,.023],[.0056,.025],[.0032,.018],[.0035,.017],[.0037,.019],[.0040,.017],[.0042,.019],[.0045,.016],[.0048,.018],[.0053,.020],[.0058,.017],[.0030,.012],[.0033,.011],[.0036,.013],[.0038,.011],[.0041,.013],[.0043,.010],[.0045,.012],[.0048,.014],[.0052,.011],[.0055,.013],[.0031,.006],[.0034,.005],[.0036,.007],[.0039,.005],[.0041,.007],[.0043,.004],[.0046,.006],[.0049,.008],[.0052,.005],[.0056,.007],[.0059,.006],[.0032,0],[.0035,-.001],[.0037,.001],[.0040,-.001],[.0042,.001],[.0044,-.002],[.0046,0],[.0049,.002],[.0051,-.001],[.0054,.001],[.0057,0],[.0030,-.006],[.0033,-.007],[.0036,-.005],[.0038,-.007],[.0041,-.005],[.0043,-.008],[.0045,-.006],[.0048,-.004],[.0050,-.007],[.0053,-.005],[.0056,-.006],[.0032,-.012],[.0035,-.013],[.0037,-.011],[.0040,-.013],[.0042,-.011],[.0044,-.014],[.0047,-.012],[.0049,-.010],[.0052,-.013],[.0055,-.011],[.0031,-.018],[.0034,-.019],[.0037,-.017],[.0039,-.019],[.0041,-.017],[.0043,-.020],[.0046,-.018],[.0049,-.016],[.0052,-.019],[.0057,-.017],[.0033,-.024],[.0036,-.025],[.0039,-.023],[.0042,-.025],[.0045,-.023],[.0048,-.026],[.0052,-.024],[.0034,-.030],[.0038,-.031],[.0043,-.029],[.0047,-.031],[.0051,-.030],
[.0042,.003],[.0043,-.003],[.0044,.008],[.0041,-.009],[.0045,-.015],[.0040,.015],[.0044,.020],[.0042,-.020]];
const posRD2 = [[.00374,.034],[.00428,.033],[.00483,.035],[.00327,.027],[.00356,.028],[.00386,.026],[.00413,.028],[.00437,.027],[.00466,.028],[.00504,.026],[.00314,.021],[.00346,.020],[.00367,.022],[.00394,.021],[.00416,.020],[.00436,.022],[.00463,.021],[.00497,.020],[.00326,.015],[.00357,.016],[.00384,.014],[.00403,.015],[.00424,.016],[.00446,.014],[.00473,.015],[.00504,.016],[.00536,.014],[.00318,.009],[.00353,.008],[.00374,.010],[.00396,.009],[.00417,.008],[.00438,.010],[.00464,.009],[.00496,.008],[.00538,.009],[.00334,.003],[.00357,.002],[.00384,.004],[.00404,.003],[.00426,.002],[.00447,.004],[.00476,.003],[.00503,.002],[.00533,.003],[.00576,.003],[.00313,-.003],[.00346,-.004],[.00366,-.002],[.00387,-.003],[.00414,-.004],[.00436,-.002],[.00457,-.003],[.00484,-.004],[.00516,-.003],[.00547,-.002],[.00328,-.009],[.00357,-.010],[.00383,-.008],[.00406,-.009],[.00423,-.010],[.00444,-.008],[.00467,-.009],[.00494,-.010],[.00526,-.009],[.00336,-.015],[.00364,-.016],[.00386,-.014],[.00407,-.015],[.00428,-.016],[.00453,-.014],[.00484,-.015],[.00513,-.016],[.00346,-.021],[.00376,-.022],[.00403,-.020],[.00434,-.022],[.00463,-.021],[.00497,-.022],[.00364,-.027],[.00404,-.028],[.00446,-.026],[.00488,-.028]];

const negRD = [[.00056,-.001],[.00116,.021],[.00126,.005],[.00139,.004],[.00141,-.002],[.00143,-.017],[.00153,.005],[.00156,-.002],[.00159,.001],[.0017,.052],[.00169,-.002],[.00178,.022],[.00183,-.008],[.00184,-.058],[.00191,.019],[.002,.018],[.00203,.098],[.002,-.001],[.00207,-.026],[.0021,-.048],[.00212,.081],[.00215,.08],[.00214,.044],[.00215,.029],[.00215,-.024],[.00218,-.041],[.00219,-.151],[.00227,-.033],[.00229,-.042],[.00235,.075],[.00238,.047],[.00233,.036],[.00251,.044],[.00251,-.041],[.00261,.141],[.00264,.08],[.00267,.044],[.00269,-.045],[.00271,-.073],[.00271,-.079],[.00274,-.058],[.00284,-.073],[.00292,.058],[.00293,.062],[.00295,-.045],[.00297,-.053],[.00298,-.06],[.00303,.161],[.00306,.117],[.00312,.047],[.00316,.105],[.00316,.068],[.00326,.135],[.00324,.027],[.00335,.075],[.00338,.036],[.00343,.058],[.00344,.043],[.00347,.075],[.00351,-.071],[.00353,-.087],[.00353,.161],[.00353,.058],[.00353,.036],[.00365,.053],[.00364,.027],[.00363,-.054],[.00371,-.045],[.00369,-.031],[.00375,.014],[.0038,0],[.00381,-.033],[.00384,.028],[.00386,-.241],[.00392,.007],[.00393,-.012],[.00393,-.014],[.00397,.039],[.004,-.023],[.00404,.004],[.00408,-.02],[.00409,.022],[.0041,.014],[.00412,-.01],[.00417,.006],[.00419,.076],[.0042,-.042],[.00423,.024],[.00427,-.02],[.00428,.033],[.00432,.003],[.00433,-.062],[.00435,.027],[.00447,.001],[.0045,.033],[.00454,.062],[.00455,-.003],[.00458,-.013],[.00489,-.011],[.00494,-.022],[.005,.015],[.00518,.046],[.00534,.033],[.00548,-.033],[.00566,-.018],[.00656,.053],
[.0023,.036],[.0026,.037],[.0029,.035],[.0033,.036],[.0022,.030],[.0025,.031],[.0028,.029],[.0031,.031],[.0034,.030],[.0021,.024],[.0023,.025],[.0026,.023],[.0028,.025],[.0030,.022],[.0033,.024],[.0036,.025],[.0022,.018],[.0024,.017],[.0027,.019],[.0029,.017],[.0031,.019],[.0034,.016],[.0037,.018],[.0021,.012],[.0023,.011],[.0025,.013],[.0027,.011],[.0029,.013],[.0031,.010],[.0033,.012],[.0035,.014],[.0022,.006],[.0024,.005],[.0026,.007],[.0028,.005],[.0030,.007],[.0032,.004],[.0034,.006],[.0036,.008],[.0021,0],[.0023,-.001],[.0025,.001],[.0027,-.001],[.0029,.001],[.0031,-.002],[.0033,0],[.0035,.002],[.0037,-.001],[.0022,-.006],[.0024,-.007],[.0026,-.005],[.0028,-.007],[.0030,-.005],[.0032,-.008],[.0034,-.006],[.0036,-.004],[.0021,-.012],[.0023,-.013],[.0025,-.011],[.0027,-.013],[.0029,-.011],[.0031,-.014],[.0033,-.012],[.0035,-.010],[.0022,-.018],[.0024,-.019],[.0026,-.017],[.0028,-.019],[.0030,-.017],[.0032,-.020],[.0035,-.018],[.0023,-.024],[.0025,-.025],[.0027,-.023],[.0029,-.025],[.0031,-.023],[.0034,-.026],[.0024,-.030],[.0026,-.031],[.0029,-.029],[.0032,-.031],[.0036,-.030],[.0025,-.036],[.0028,-.037],[.0031,-.035],
[.0024,.002],[.0026,-.003],[.0028,.009],[.0030,-.009],[.0027,.004],[.0029,-.015],[.0025,.015],[.0032,.001]];
const negRD2 = [[.00247,.033],[.00283,.034],[.00318,.032],[.00226,.027],[.00257,.028],[.00289,.026],[.00326,.027],[.00218,.021],[.00243,.020],[.00266,.022],[.00291,.021],[.00313,.019],[.00347,.021],[.00224,.015],[.00239,.014],[.00262,.016],[.00284,.014],[.00302,.015],[.00327,.013],[.00346,.014],[.00216,.009],[.00237,.008],[.00258,.010],[.00279,.008],[.00297,.010],[.00319,.009],[.00338,.008],[.00221,.003],[.00246,.004],[.00264,.002],[.00283,.003],[.00306,.004],[.00324,.002],[.00343,.003],[.00362,.004],[.00227,-.003],[.00249,-.002],[.00268,-.004],[.00286,-.003],[.00308,-.002],[.00329,-.004],[.00347,-.003],[.00219,-.009],[.00236,-.008],[.00257,-.010],[.00277,-.009],[.00298,-.008],[.00316,-.010],[.00339,-.009],[.00224,-.015],[.00243,-.014],[.00266,-.016],[.00288,-.015],[.00309,-.014],[.00323,-.016],[.00348,-.015],[.00233,-.021],[.00254,-.022],[.00273,-.020],[.00294,-.022],[.00314,-.021],[.00336,-.022],[.00246,-.027],[.00271,-.028],[.00304,-.027],[.00327,-.028],[.00263,-.033],[.00296,-.033]];

const posFP = [[.00416,-.002],[.00488,0],[.00528,-.004],[.006,-.003],[.00604,-.009],[.00617,-.044],[.00626,-.017],[.00635,.014],[.00641,.02],[.00653,-.002],[.00663,-.017],[.00673,.001],[.00687,.03],[.00712,-.021],[.0073,-.034],[.00727,.023],[.00745,.022],[.0075,.076],[.00741,-.007],[.00753,-.033],[.00761,.021],[.00761,-.006],[.00772,-.023],[.00788,.022],[.00799,-.016],[.00807,0],[.00811,-.031],[.00837,.007],[.00842,.019],[.00853,.044],[.0086,.045],[.00868,.006],[.00879,.053],[.00884,-.001],[.0089,-.017],[.00896,-.021],[.00902,-.043],[.00907,-.028],[.0092,.008],[.0093,-.033],[.00933,-.057],[.00953,-.011],[.0096,.074],[.00968,-.048],[.00979,-.057],[.00985,.106],[.0099,-.054],[.00983,.038],[.01003,-.033],[.01012,.045],[.01011,-.243],[.01022,-.087],[.01022,-.033],[.01031,.057],[.01045,-.052],[.01083,-.072],[.01088,.039],[.01083,.034],[.01103,-.062],[.01121,.047],[.01117,-.045],[.01124,-.04],[.01152,.08],[.01157,.162],[.01147,.031],[.01175,-.036],[.01183,-.043],[.01206,.053],[.01215,-.078],[.01229,.134],[.01241,-.042],[.01255,.075],[.0126,.064],[.0127,.082],[.01275,-.071],[.01282,.058],[.01295,.117],[.01285,-.03],[.01308,.08],[.01313,.074],[.01305,.066],[.01305,-.06],[.01302,.052],[.01318,.038],[.01351,.098],[.01344,-.039],[.01359,-.04],[.01374,.045],[.01394,.037],[.01405,-.048],[.01431,-.075],[.01431,-.033],[.01451,.047],[.01482,.159],[.01497,-.15],[.01531,-.037],[.01548,.031],[.01566,-.033],[.01574,-.013],[.01601,.043],[.0162,-.02],[.01623,.025],[.01635,.01],[.01643,.028],[.01647,-.033],[.01658,.063],[.01663,.058],[.01707,-.008],[.01704,-.036],[.0173,.037],[.01735,-.001],[.01755,0],[.01758,-.013],[.0177,-.008],[.01785,.013],[.01804,.142],[.01827,.025],[.01896,.01],[.0205,-.013],[.02111,-.023],[.02121,-.01],
[.0105,.035],[.0113,.036],[.0121,.034],[.0128,.035],[.0137,.037],[.0145,.034],[.0100,.029],[.0109,.030],[.0117,.028],[.0125,.030],[.0132,.028],[.0140,.030],[.0148,.029],[.0098,.023],[.0104,.024],[.0111,.022],[.0119,.024],[.0126,.021],[.0133,.023],[.0141,.025],[.0149,.022],[.0101,.017],[.0107,.016],[.0114,.018],[.0121,.016],[.0128,.018],[.0135,.015],[.0143,.017],[.0150,.019],[.0097,.011],[.0103,.010],[.0109,.012],[.0116,.010],[.0123,.012],[.0130,.009],[.0137,.011],[.0144,.013],[.0152,.010],[.0100,.005],[.0106,.004],[.0112,.006],[.0118,.004],[.0125,.006],[.0132,.003],[.0139,.005],[.0146,.007],[.0098,-.001],[.0104,-.002],[.0110,0],[.0115,-.002],[.0121,0],[.0128,-.003],[.0134,-.001],[.0141,.001],[.0148,-.002],[.0155,0],[.0101,-.007],[.0107,-.008],[.0113,-.006],[.0119,-.008],[.0126,-.006],[.0133,-.009],[.0140,-.007],[.0147,-.005],[.0103,-.013],[.0109,-.014],[.0114,-.012],[.0120,-.014],[.0127,-.012],[.0135,-.015],[.0142,-.013],[.0149,-.011],[.0106,-.019],[.0112,-.020],[.0118,-.018],[.0124,-.020],[.0131,-.018],[.0138,-.021],[.0145,-.019],[.0152,-.017],[.0108,-.025],[.0115,-.026],[.0121,-.024],[.0129,-.026],[.0140,-.024],[.0147,-.027],[.0111,-.031],[.0118,-.032],[.0125,-.030],[.0143,-.031],
[.0120,-.028],[.0122,-.033],[.0119,-.022],[.0123,-.027],[.0108,.002],[.0111,-.004],[.0143,-.010],[.0145,-.016],[.0140,-.004],[.0113,.003]];
const posFP2 = [[.0109,.033],[.0117,.032],[.0125,.033],[.0133,.032],[.0141,.033],[.0104,.026],[.0113,.027],[.0121,.026],[.0129,.027],[.0136,.026],[.0144,.027],[.0101,.020],[.0108,.020],[.0116,.021],[.0123,.019],[.0130,.020],[.0138,.021],[.0146,.020],[.0100,.014],[.0106,.014],[.0112,.015],[.0119,.013],[.0126,.014],[.0132,.015],[.0140,.014],[.0147,.015],[.0101,.008],[.0107,.008],[.0113,.009],[.0120,.007],[.0127,.008],[.0134,.009],[.0141,.008],[.0149,.009],[.0102,.002],[.0108,.002],[.0114,.003],[.0120,.001],[.0126,.002],[.0131,.001],[.0137,.002],[.0144,.003],[.0151,.002],[.0103,-.004],[.0109,-.005],[.0116,-.004],[.0122,-.005],[.0128,-.004],[.0136,-.005],[.0143,-.004],[.0150,-.005],[.0105,-.010],[.0111,-.011],[.0117,-.010],[.0123,-.011],[.0130,-.010],[.0138,-.011],[.0145,-.010],[.0152,-.011],[.0108,-.016],[.0115,-.017],[.0121,-.016],[.0127,-.017],[.0134,-.016],[.0141,-.017],[.0148,-.016],[.0111,-.022],[.0117,-.023],[.0123,-.022],[.0132,-.023],[.0143,-.022],[.0114,-.028],[.0127,-.029],[.0139,-.028]];

const negFP = [[.0012,.02],[.00147,-.003],[.00143,-.016],[.00164,0],[.00227,-.002],[.00239,.005],[.00253,-.009],[.00272,.015],[.00272,-.032],[.00279,-.002],[.00289,-.02],[.00292,.02],[.003,.021],[.00298,.005],[.00305,-.012],[.00309,-.044],[.00311,-.072],[.00317,-.024],[.00323,-.037],[.00326,-.049],[.00335,-.021],[.0035,.043],[.00352,.028],[.00352,-.023],[.00365,.08],[.00366,-.032],[.00376,-.046],[.00384,-.042],[.00386,-.011],[.0039,.074],[.00395,.057],[.00401,.074],[.00401,-.032],[.0041,-.058],[.00412,.098],[.00416,.117],[.00414,.053],[.00425,.162],[.00423,.044],[.00431,.075],[.00433,-.061],[.00441,-.075],[.0044,.057],[.00453,.066],[.00459,.134],[.00456,.037],[.00463,-.043],[.00469,-.15],[.0048,.106],[.00485,.082],[.00489,.047],[.00491,-.077],[.00497,-.058],[.00497,.058],[.00515,.141],[.00519,-.071],[.0052,.063],[.00519,-.035],[.00529,.037],[.00545,-.036],[.00549,.074],[.00555,-.243],[.00564,.057],[.00566,-.033],[.00572,-.048],[.00581,-.054],[.00589,.046],[.00592,.037],[.00594,-.021],[.00601,.074],[.00603,.159],[.00605,-.033],[.00611,.054],[.00613,.018],[.00615,.043],[.00624,.038],[.00629,-.043],[.00635,-.041],[.00635,-.021],[.00646,.005],[.00649,-.062],[.00658,.034],[.00663,-.04],[.00663,-.029],[.00667,-.052],[.00669,.047],[.00675,.037],[.00677,-.021],[.00677,.025],[.00683,.015],[.00688,-.018],[.00694,.045],[.00697,.022],[.00701,.004],[.00706,-.005],[.007,-.013],[.00718,.038],[.00722,.007],[.00747,.062],[.0075,-.021],[.0075,.011],[.00754,.026],[.00767,.021],[.00772,-.032],[.00781,-.023],[.00819,-.087],[.00825,-.018],[.01,.051],[.01073,.031],
[.0040,.035],[.0046,.036],[.0051,.034],[.0055,.035],[.0060,.037],[.0037,.029],[.0042,.030],[.0047,.028],[.0050,.030],[.0053,.028],[.0058,.030],[.0035,.023],[.0039,.024],[.0043,.022],[.0046,.024],[.0049,.021],[.0052,.023],[.0056,.025],[.0061,.022],[.0036,.017],[.0040,.016],[.0044,.018],[.0047,.016],[.0050,.018],[.0053,.015],[.0057,.017],[.0061,.019],[.0034,.011],[.0038,.010],[.0041,.012],[.0044,.010],[.0046,.012],[.0049,.009],[.0052,.011],[.0055,.013],[.0059,.010],[.0036,.005],[.0039,.004],[.0042,.006],[.0045,.004],[.0047,.006],[.0050,.003],[.0053,.005],[.0056,.007],[.0060,.004],[.0035,-.001],[.0038,-.002],[.0041,0],[.0043,-.002],[.0045,0],[.0047,-.003],[.0050,-.001],[.0052,.001],[.0055,-.002],[.0058,0],[.0062,-.001],[.0037,-.007],[.0040,-.008],[.0043,-.006],[.0045,-.008],[.0047,-.006],[.0049,-.009],[.0051,-.007],[.0054,-.005],[.0057,-.008],[.0061,-.006],[.0036,-.013],[.0039,-.014],[.0042,-.012],[.0044,-.014],[.0046,-.012],[.0048,-.015],[.0051,-.013],[.0053,-.011],[.0056,-.014],[.0059,-.012],[.0038,-.019],[.0041,-.020],[.0044,-.018],[.0046,-.020],[.0049,-.018],[.0051,-.021],[.0054,-.019],[.0058,-.017],[.0040,-.025],[.0043,-.026],[.0045,-.024],[.0048,-.026],[.0051,-.024],[.0055,-.027],[.0042,-.031],[.0045,-.032],[.0048,-.030],[.0052,-.032],[.0056,-.031],[.0044,-.037],[.0049,-.038],[.0054,-.036],
[.0044,.002],[.0046,-.004],[.0048,.008],[.0050,-.010],[.0045,-.016],[.0047,.014],[.0052,-.004],[.0043,-.009]];
const negFP2 = [[.0043,.033],[.0049,.032],[.0053,.033],[.0040,.026],[.0044,.027],[.0048,.026],[.0051,.027],[.0055,.026],[.0059,.027],[.0038,.020],[.0042,.020],[.0045,.021],[.0048,.020],[.0051,.019],[.0055,.020],[.0059,.021],[.0037,.014],[.0041,.014],[.0043,.015],[.0046,.014],[.0048,.013],[.0051,.014],[.0054,.015],[.0058,.014],[.0037,.008],[.0040,.008],[.0043,.009],[.0046,.008],[.0048,.007],[.0051,.008],[.0054,.009],[.0058,.008],[.0037,.002],[.0040,.002],[.0042,.003],[.0044,.001],[.0046,.002],[.0048,.001],[.0051,.002],[.0054,.003],[.0057,.002],[.0036,-.004],[.0039,-.005],[.0042,-.004],[.0044,-.005],[.0046,-.003],[.0048,-.005],[.0050,-.004],[.0053,-.003],[.0056,-.005],[.0060,-.004],[.0038,-.010],[.0041,-.011],[.0043,-.010],[.0045,-.011],[.0047,-.009],[.0049,-.011],[.0052,-.010],[.0055,-.009],[.0058,-.010],[.0037,-.016],[.0040,-.017],[.0043,-.016],[.0045,-.017],[.0047,-.015],[.0050,-.017],[.0052,-.016],[.0056,-.015],[.0039,-.022],[.0042,-.023],[.0044,-.022],[.0047,-.023],[.0050,-.022],[.0053,-.023],[.0057,-.022],[.0041,-.028],[.0044,-.029],[.0047,-.028],[.0050,-.029],[.0054,-.028],[.0046,-.034],[.0051,-.034]];

// ---------------- LAYOUT / CONFIG ----------------
const seriesData = [lmPos.concat(lmPos2), lmNeg.concat(lmNeg2), bhrPos.concat(bhrPos2), bhrNeg.concat(bhrNeg2), posSC.concat(posSC2), negSC.concat(negSC2), posRD.concat(posRD2), negRD.concat(negRD2), posFP.concat(posFP2), negFP.concat(negFP2)];
const xTickSets = [xTicks1,xTicks2,xTicks3,xTicks4,xTicks5,xTicks6,xTicks7,xTicks8,xTicks9,xTicks10];
const xDecimals = [3,3,3,3,3,3,3,3,4,3];
const xRanges = [[-0.00023,0.01133],[0.00638,0.02753],[0.00182,0.03948],[0.01358,0.0391],[0.000764,0.00746],[-0.000325,0.006887],[0.001122,0.012513],[0.000251,0.00683],[0.0033,0.02198],[0.000715,0.01116]];
const yRange = [-0.2575, 0.1825];
const colLeft = [82.7, 574.7];
const rowTop = [30, 426.6, 823.2, 1219.8, 1616.4];
const plotW = 406.6, plotH = 308;
const FONT = "'Liberation Sans', Arial, Helvetica, sans-serif";
const TXT = '#262626';

const grids=[], xAxes=[], yAxes=[], series=[], graphics=[];
for (let i=0;i<10;i++){
  const col=i%2, row=Math.floor(i/2);
  const left=colLeft[col], top=rowTop[row];
  grids.push({left:left, top:top, width:plotW, height:plotH, show:true, backgroundColor:'#EAEAF2', borderWidth:0, containLabel:false});
  const dec=xDecimals[i];
  xAxes.push({type:'value', gridIndex:i, min:xRanges[i][0], max:xRanges[i][1],
    name:xNames[i], nameLocation:'middle', nameGap:34,
    nameTextStyle:{fontFamily:FONT, fontSize:16.5, color:TXT},
    axisLine:{show:false}, axisTick:{show:false, customValues:xTickSets[i]},
    axisLabel:{customValues:xTickSets[i], margin:14, fontFamily:FONT, fontSize:15, color:TXT,
      formatter:(v)=>Number(v).toFixed(dec).replace('-','\u2212')},
    splitLine:{show:true, lineStyle:{color:'#ffffff', width:1.3}}});
  yAxes.push({type:'value', gridIndex:i, min:yRange[0], max:yRange[1],
    name:yName, nameLocation:'middle', nameGap:57,
    nameTextStyle:{fontFamily:FONT, fontSize:16.5, color:TXT},
    axisLine:{show:false}, axisTick:{show:false, customValues:yTicks},
    axisLabel:{customValues:yTicks, margin:14, fontFamily:FONT, fontSize:15, color:TXT,
      formatter:(v)=>Number(v).toFixed(2).replace('-','\u2212')},
    splitLine:{show:true, lineStyle:{color:'#ffffff', width:1.3}}});
  series.push({type:'scatter', xAxisIndex:i, yAxisIndex:i, data:seriesData[i],
    symbol:'circle', symbolSize:9,
    itemStyle:{color:'rgba(76,114,176,0.55)', borderColor:'rgba(76,114,176,0.55)', borderWidth:1},
    silent:true, animation:false});
  graphics.push({type:'text', x:left+plotW/2, y:top-14,
    style:{text:titles[i], align:'center', verticalAlign:'middle', fontFamily:FONT, fontSize:16.6, fill:TXT}});
}
const chart = echarts.init(document.getElementById('c'), null, {renderer:'canvas'});
chart.setOption({backgroundColor:'#ffffff', animation:false, grid:grids, xAxis:xAxes, yAxis:yAxes, series:series, graphic:graphics});
</script></body></html>
